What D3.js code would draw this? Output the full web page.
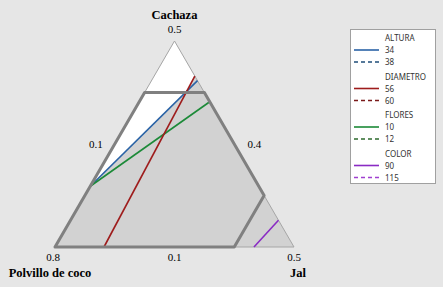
<!DOCTYPE html>
<html><head><meta charset="utf-8">
<script src="https://cdn.jsdelivr.net/npm/d3@7"></script>
<style>
html,body{margin:0;padding:0;background:#e6e6e6;}
svg{display:block;}
</style></head>
<body>
<script>
// ---- data ----
const components = ["Cachaza", "Polvillo de coco", "Jal"];     // top, left, right
const lowerBounds = [0.1, 0.4, 0.1];
const vertexLabels = ["0.5", "0.8", "0.5"];
const edgeLabels = ["0.1", "0.4", "0.1"]; // left edge (Jal lb), right edge (Polvillo lb), bottom (Cachaza lb)
// constraint region (C, P, J)
const regionPts = [[0.4,0.5,0.1],[0.4,0.4,0.2],[0.2,0.4,0.4],[0.1,0.5,0.4],[0.1,0.8,0.1]];
// contour lines (C, P, J)
const lineAltura34 = [[0.218,0.682,0.100],[0.423,0.400,0.177]];
const lineDiametro56 = [[0.100,0.718,0.182],[0.432,0.400,0.168]];
const lineFlores10 = [[0.218,0.682,0.100],[0.382,0.400,0.218]];
const lineColor90 = [[0.100,0.467,0.433],[0.152,0.400,0.448]];
const legendGroups = ["ALTURA","DIAMETRO","FLORES","COLOR"];
const legendValues = [["34","38"],["56","60"],["10","12"],["90","115"]];
const legendColors = [["#2a63a6","#1f4e79"],["#9e1c1c","#7a1a1a"],["#1c8a38","#2e6b2e"],["#8a2bc4","#a040d0"]];

(function(){
const W=443,H=287;
const svg=d3.select("body").append("svg").attr("width",W).attr("height",H);
svg.append("rect").attr("width",W).attr("height",H).attr("fill","#e6e6e6");

const R = 1 - d3.sum(lowerBounds);
const S3 = Math.sqrt(3)/2;
const x = d3.scaleLinear().domain([0,1]).range([55,294]);
const y = d3.scaleLinear().domain([0,S3]).range([247,41]);
function toXY(d){
  const c=(d[0]-lowerBounds[0])/R, j=(d[2]-lowerBounds[2])/R;
  return [j + c/2, c*S3];
}
function px(p){return [x(p[0]), y(p[1])];}
const line = d3.line().x(d=>x(d[0])).y(d=>y(d[1]));

const vTop=[lowerBounds[0]+R,lowerBounds[1],lowerBounds[2]];
const vLeft=[lowerBounds[0],lowerBounds[1]+R,lowerBounds[2]];
const vRight=[lowerBounds[0],lowerBounds[1],lowerBounds[2]+R];
const tri=[vTop,vLeft,vRight].map(toXY);

svg.append("path").attr("d",line(tri)+"Z").attr("fill","#d2d2d2");

function intersect(a1,a2,b1,b2){
  const d=(a2[0]-a1[0])*(b2[1]-b1[1])-(a2[1]-a1[1])*(b2[0]-b1[0]);
  const t=((b1[0]-a1[0])*(b2[1]-b1[1])-(b1[1]-a1[1])*(b2[0]-b1[0]))/d;
  return [a1[0]+t*(a2[0]-a1[0]), a1[1]+t*(a2[1]-a1[1])];
}
const rd=lineDiametro56.map(toXY), bl=lineAltura34.map(toXY);
const ip=intersect(rd[0],rd[1],bl[0],bl[1]);
svg.append("path").attr("d",line([tri[0],rd[1],ip,bl[0]])+"Z").attr("fill","#ffffff");

svg.append("path").attr("d",line(tri)+"Z").attr("fill","none").attr("stroke","#a6a6a6").attr("stroke-width",1);

const drawn=[[lineAltura34,legendColors[0][0]],[lineFlores10,legendColors[2][0]],[lineDiametro56,legendColors[1][0]],[lineColor90,legendColors[3][0]]];
drawn.forEach(([pts,col])=>{
  svg.append("path").attr("d",line(pts.map(toXY))).attr("fill","none").attr("stroke",col).attr("stroke-width",1.6);
});

svg.append("path").attr("d",line(regionPts.map(toXY))+"Z").attr("fill","none")
  .attr("stroke","#808080").attr("stroke-width",3).attr("stroke-linejoin","round");

const serif="'Liberation Serif','Times New Roman',serif";
function txt(xx,yy,s,bold,size,anchor){
  svg.append("text").attr("x",xx).attr("y",yy).text(s).attr("font-family",serif)
    .attr("font-size",size).attr("font-weight",bold?"bold":"normal").attr("fill","#000")
    .attr("text-anchor",anchor||"middle");
}
const pT=px(tri[0]), pL=px(tri[1]), pR=px(tri[2]);
txt(pT[0],19,components[0],true,12.5);
txt(pT[0],33,vertexLabels[0],false,11);
txt(pL[0]-2,261,vertexLabels[1],false,11);
txt(pR[0],261,vertexLabels[2],false,11);
txt(50,277,components[1],true,12.5);
txt(pR[0]+4,277,components[2],true,12.5);
txt((pT[0]+pL[0])/2-19,148,edgeLabels[0],false,11);
txt((pT[0]+pR[0])/2+20,148,edgeLabels[1],false,11);
txt((pL[0]+pR[0])/2,261,edgeLabels[2],false,11);

const lg=svg.append("g");
lg.append("rect").attr("x",350.5).attr("y",29.5).attr("width",85).attr("height",154)
  .attr("fill","#fff").attr("stroke","#a0a0a0");
const sans="'Noto Sans','Open Sans',sans-serif";
legendGroups.forEach((g,gi)=>{
  const y0=38+gi*38.5;
  lg.append("text").attr("x",385).attr("y",y0+3).text(g).attr("font-family",sans).attr("font-size",8).attr("fill","#333");
  legendValues[gi].forEach((v,k)=>{
    const yy=y0+12*(k+1);
    lg.append("line").attr("x1",354).attr("x2",379).attr("y1",yy).attr("y2",yy)
      .attr("stroke",legendColors[gi][k]).attr("stroke-width",1.6)
      .attr("stroke-dasharray",k===1?"4,3":null);
    lg.append("text").attr("x",385).attr("y",yy+3).text(v).attr("font-family",sans).attr("font-size",8).attr("fill","#333");
  });
});
})();
</script>
</body></html>
